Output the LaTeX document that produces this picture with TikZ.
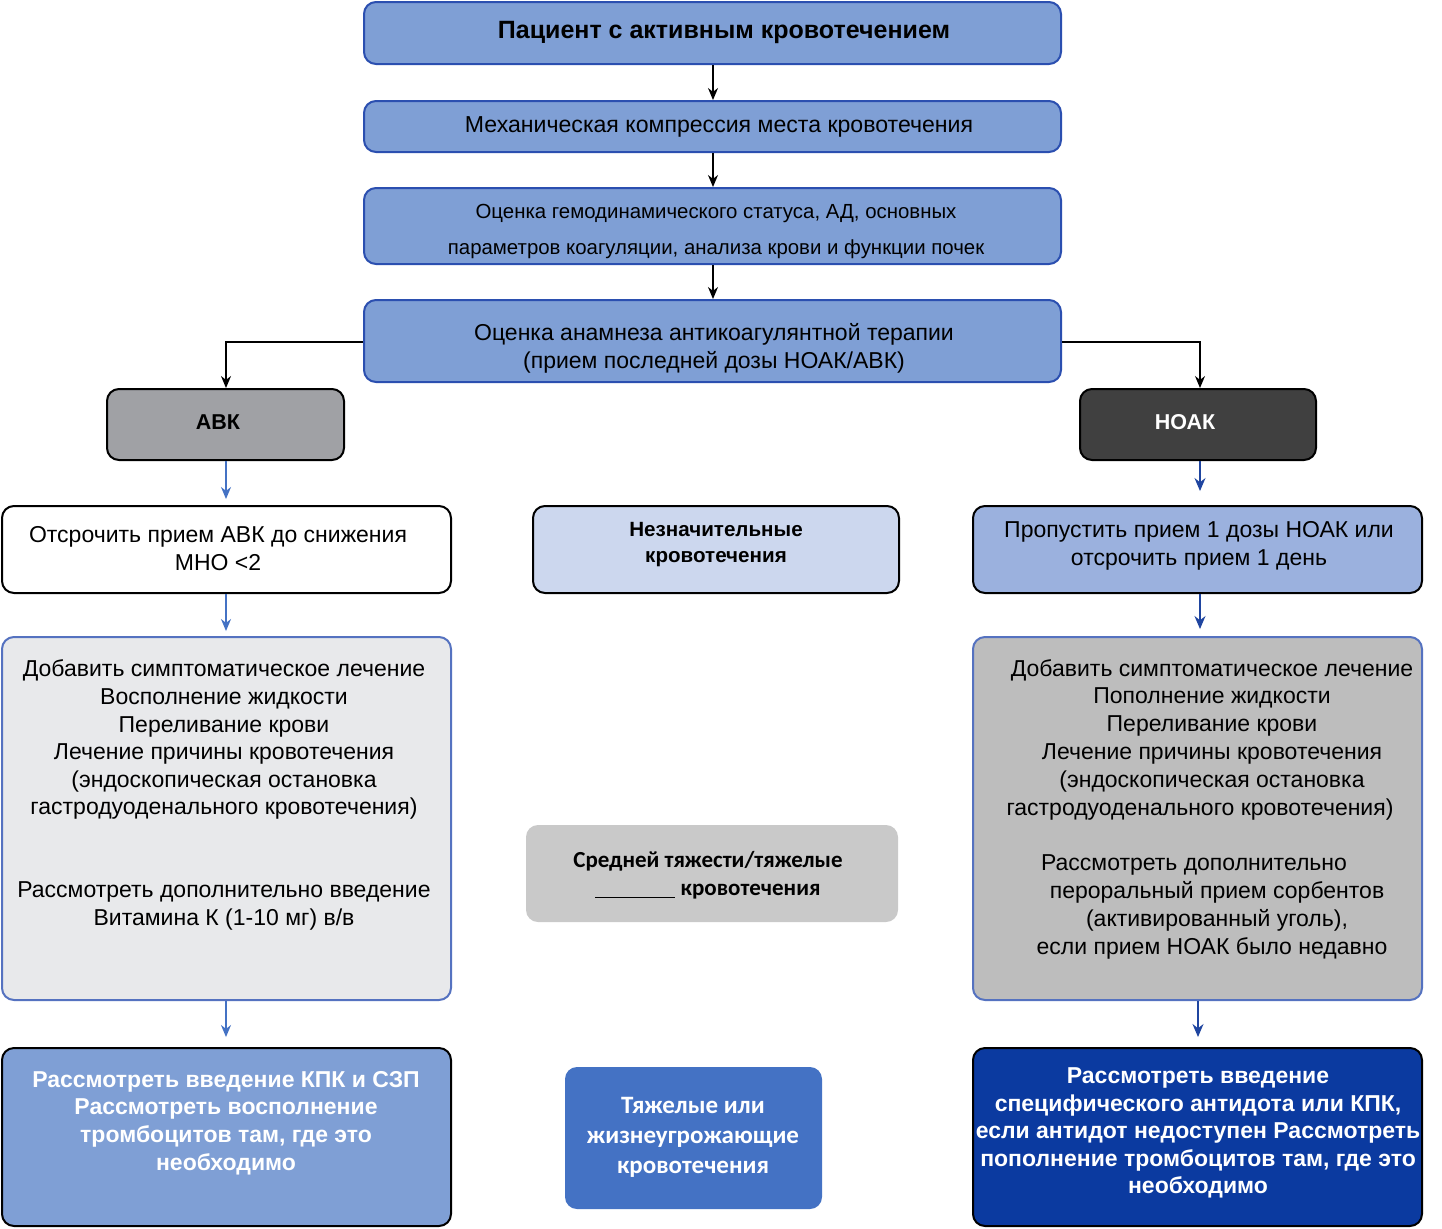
\documentclass[tikz,border=0pt]{standalone}
\usepackage{fontspec}
\setmainfont{Liberation Sans}
\newfontfamily\calfont{Carlito}
\usetikzlibrary{arrows.meta}
\definecolor{bluefill}{HTML}{7F9FD5}
\definecolor{blueborder}{HTML}{2B4FB0}
\definecolor{avkgray}{HTML}{A0A1A5}
\definecolor{noakdark}{HTML}{404040}
\definecolor{minorfill}{HTML}{CCD7EE}
\definecolor{skipfill}{HTML}{9BB1DE}
\definecolor{lightgray}{HTML}{E8E9EB}
\definecolor{midgray}{HTML}{BDBDBD}
\definecolor{modgray}{HTML}{C9C9C9}
\definecolor{darkblue}{HTML}{0B3AA0}
\definecolor{severeblue}{HTML}{4472C4}
\definecolor{leftarrow}{HTML}{4472C4}
\definecolor{rightarrow}{HTML}{1F45A0}
\newcommand\bx[6]{%
  \pgfmathsetmacro\cx{(#2+#4)/2}\pgfmathsetmacro\cy{(#3+#5)/2}%
  \pgfmathsetmacro\ww{(#4-#2)*0.5}\pgfmathsetmacro\hh{(#5-#3)*0.5}%
  \node[boxbase, #6, minimum width=\ww pt, minimum height=\hh pt] (#1) at (\cx,\cy) {};}
\newcommand\padr[1]{\rule{#1}{0pt}}
\tikzset{
  boxbase/.style={rectangle, rounded corners=6pt, inner sep=0pt, line width=1pt},
  topbox/.style={fill=bluefill, draw=blueborder},
  txt/.style={align=center, inner sep=0pt},
  blk/.style={-{Stealth[width=5pt,length=6pt]}, line width=0.6pt, black},
  lbl/.style={-{Stealth[width=5pt,length=6pt]}, line width=0.6pt, leftarrow},
  rbl/.style={-{Stealth[width=5.5pt,length=6.5pt]}, line width=0.7pt, rightarrow},
}
\begin{document}
\begin{tikzpicture}[x=0.5pt,y=-0.5pt]
\useasboundingbox (0,0) rectangle (1442,1228);
\fill[white] (0,0) rectangle (1442,1228);
% boxes
\bx{b1}{364}{2}{1061}{64}{topbox}
\bx{b2}{364}{101}{1061}{152}{topbox}
\bx{b3}{364}{188}{1061}{264}{topbox}
\bx{b4}{364}{300}{1061}{382}{topbox}
\bx{avk}{107}{389}{344}{460}{fill=avkgray, draw=black}
\bx{noak}{1080}{389}{1316}{460}{fill=noakdark, draw=black}
\bx{delay}{2}{506}{451}{593}{fill=white, draw=black}
\bx{minor}{533}{506}{899}{593}{fill=minorfill, draw=black}
\bx{skip}{973}{506}{1422}{593}{fill=skipfill, draw=black}
\bx{lbig}{2}{637}{451}{1000}{fill=lightgray, draw=blueborder!80!white}
\bx{rbig}{973}{637}{1422}{1000}{fill=midgray, draw=blueborder!80!white}
\bx{moder}{526}{825}{898}{922}{fill=modgray}
\bx{lbot}{2}{1048}{451}{1226}{fill=bluefill, draw=black}
\bx{rbot}{973}{1048}{1422}{1226}{fill=darkblue, draw=black}
\bx{severe}{565}{1067}{822}{1209}{fill=severeblue}
% texts
\node[txt, font=\bfseries\fontsize{12.5}{15}\selectfont] (t1) at (724,32) {Пациент с активным кровотечением};
\node[txt, font=\fontsize{11.55}{13}\selectfont] (t2) at (719,127) {Механическая компрессия места кровотечения};
\node[txt, font=\fontsize{10.2}{18}\selectfont] (t3) at (716,231) {Оценка гемодинамического статуса, АД, основных\\параметров коагуляции, анализа крови и функции почек};
\node[txt, font=\fontsize{11.5}{14}\selectfont] (t4) at (714,348) {Оценка анамнеза антикоагулянтной терапии\\(прием последней дозы НОАК/АВК)};
\node[txt, font=\bfseries\fontsize{10.75}{12}\selectfont] (tavk) at (218,422) {АВК};
\node[txt, font=\bfseries\fontsize{10.75}{12}\selectfont, text=white] (tnoak) at (1185,422) {НОАК};
\node[txt, font=\fontsize{11.5}{14}\selectfont] (tdelay) at (218,549) {Отсрочить прием АВК до снижения\\МНО <2};
\node[txt, font=\bfseries\fontsize{10.3}{13}\selectfont] (tminor) at (716,545) {Незначительные\\кровотечения};
\node[txt, font=\fontsize{11.5}{14}\selectfont] (tskip) at (1199,546) {Пропустить прием 1 дозы НОАК или\\отсрочить прием 1 день};
\node[txt, font=\fontsize{11.5}{13.8}\selectfont] (tlbig) at (224,795) {Добавить симптоматическое лечение\\Восполнение жидкости\\Переливание крови\\Лечение причины кровотечения\\(эндоскопическая остановка\\гастродуоденального кровотечения)\\[27.6pt]Рассмотреть дополнительно введение\\Витамина К (1-10 мг) в/в};
\node[txt, font=\fontsize{11.5}{13.9}\selectfont] (trbig) at (1212,809) {Добавить симптоматическое лечение\\Пополнение жидкости\\Переливание крови\\Лечение причины кровотечения\\(эндоскопическая остановка\\гастродуоденального кровотечения)\padr{12pt}\\[13.9pt]Рассмотреть дополнительно\padr{18pt}\\\padr{5pt}пероральный прием сорбентов\\\padr{5pt}(активированный уголь),\\если прием НОАК было недавно};
\node[txt, font=\calfont\bfseries\fontsize{11.5}{14}\selectfont] (tmoder) at (708,875) {Средней тяжести/тяжелые\\\rule[-1.5pt]{40pt}{0.8pt} кровотечения};
\node[txt, font=\bfseries\fontsize{11.5}{13.8}\selectfont, text=white] (tlbot) at (226,1123) {Рассмотреть введение КПК и СЗП\\Рассмотреть восполнение\\тромбоцитов там, где это\\необходимо};
\node[txt, font=\bfseries\fontsize{11.5}{13.8}\selectfont, text=white] (trbot) at (1198,1133) {Рассмотреть введение\\специфического антидота или КПК,\\если антидот недоступен Рассмотреть\\пополнение тромбоцитов там, где это\\необходимо};
\node[txt, font=\calfont\bfseries\fontsize{12.5}{15}\selectfont, text=white] (tsevere) at (693,1137) {Тяжелые или\\жизнеугрожающие\\кровотечения};
% connectors
\coordinate (c1) at (713,64);
\draw[blk] (b1.south -| c1) -- (b2.north -| c1);
\draw[blk] (b2.south -| c1) -- (b3.north -| c1);
\draw[blk] (b3.south -| c1) -- (b4.north -| c1);
\coordinate (lx) at (226,342);
\coordinate (rx) at (1200,342);
\draw[blk] (b4.west |- lx) -| (avk.north -| lx);
\draw[blk] (b4.east |- rx) -| (noak.north -| rx);
\draw[lbl] (avk.south -| lx) -- ([yshift=3pt]delay.north -| lx);
\draw[rbl] (noak.south -| rx) -- ([yshift=7pt]skip.north -| rx);
\draw[lbl] (delay.south -| lx) -- ([yshift=2.5pt]lbig.north -| lx);
\draw[rbl] (skip.south -| rx) -- ([yshift=3.5pt]rbig.north -| rx);
\draw[lbl] (lbig.south -| lx) -- ([yshift=5pt]lbot.north -| lx);
\coordinate (rx2) at (1198,1000);
\draw[rbl] (rbig.south -| rx2) -- ([yshift=5pt]rbot.north -| rx2);
\end{tikzpicture}
\end{document}
